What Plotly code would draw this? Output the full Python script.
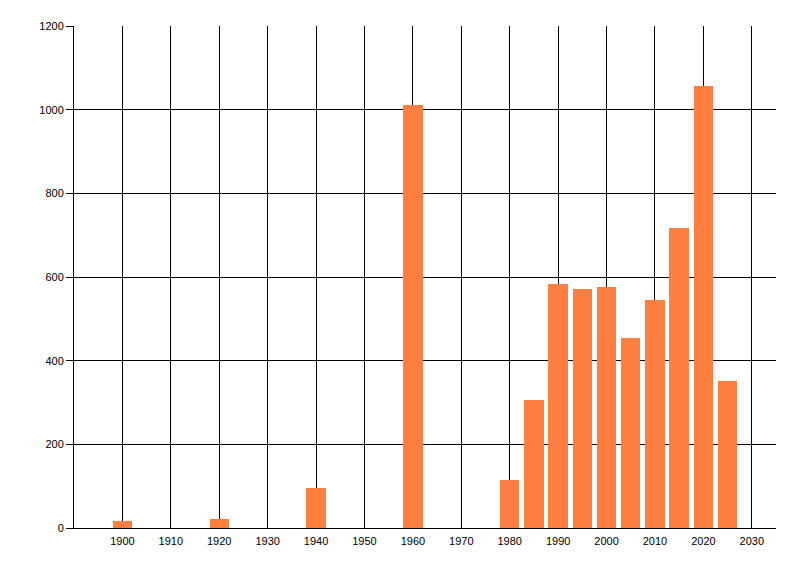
import plotly.graph_objects as go

years = [1900, 1920, 1940, 1960, 1980, 1985, 1990, 1995, 2000, 2005, 2010, 2015, 2020, 2025]
values = [17, 22, 96, 1011, 115, 307, 584, 572, 577, 455, 546, 718, 1058, 352]
x_ticks = list(range(1900, 2031, 10))
y_ticks = [0, 200, 400, 600, 800, 1000, 1200]

fig = go.Figure(go.Bar(
    x=years, y=values, width=4,
    marker=dict(color="#FF7F40", line=dict(width=0)),
    hoverinfo="skip",
))

fig.update_layout(
    width=800, height=576,
    margin=dict(l=74, r=24, t=26, b=48),
    paper_bgcolor="white", plot_bgcolor="white",
    font=dict(family="Liberation Sans, Arial, sans-serif", size=11, color="black"),
    showlegend=False,
    bargap=0,
)
fig.update_xaxes(
    range=[1890, 2035], tickvals=x_ticks, ticktext=[str(t) for t in x_ticks],
    showgrid=True, gridcolor="black", gridwidth=1,
    showline=True, linecolor="black", linewidth=1,
    ticks="", zeroline=False, ticklabelstandoff=3,
)
fig.update_yaxes(
    range=[0, 1200.6], tickvals=y_ticks,
    showgrid=True, gridcolor="black", gridwidth=1,
    showline=True, linecolor="black", linewidth=1,
    ticks="outside", ticklen=7, tickcolor="black", tickwidth=1,
    zeroline=False,
)
fig.write_html(
    "out.html",
    config={"displayModeBar": False},
    post_script="document.body.style.margin='0';document.body.style.overflow='hidden';",
)
